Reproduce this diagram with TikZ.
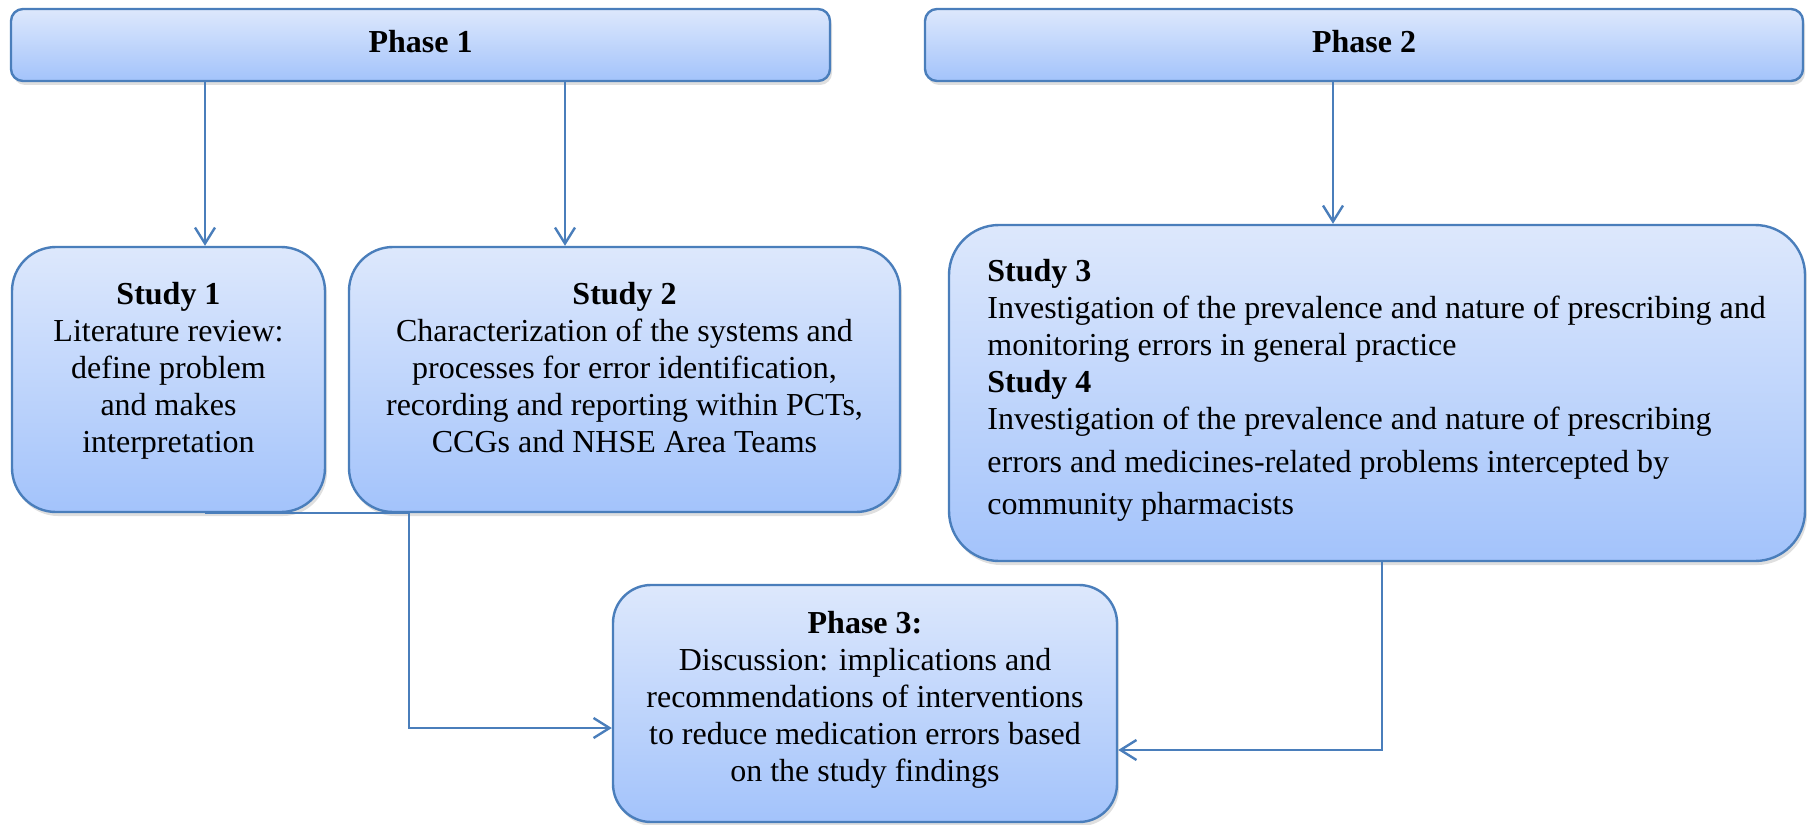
\documentclass[tikz,border=0pt]{standalone}
\usepackage{fontspec}
\setmainfont{Liberation Serif}
\usetikzlibrary{arrows.meta,shadows}

\definecolor{boxline}{HTML}{4A7EBB}
\definecolor{boxtop}{HTML}{DDE8FC}
\definecolor{boxbottom}{HTML}{A3C3FB}

\tikzset{
  phasebox/.style={draw=boxline, line width=1.2pt, rounded corners=6pt,
    top color=boxtop, bottom color=boxbottom, inner sep=0pt, text depth=4pt,
    drop shadow={opacity=0.25, shadow xshift=1pt, shadow yshift=-2pt}},
  studybox/.style={phasebox, rounded corners=22pt, text depth=0pt},
  boxtext/.style={inner sep=0pt, align=center},
  flow/.style={draw=boxline, line width=1.2pt, -{Straight Barb[length=8pt,width=10pt]}}
}

\begin{document}
\begin{tikzpicture}[x=0.5pt, y=-0.5pt, font=\fontsize{16pt}{18.5pt}\selectfont]
    \useasboundingbox (0,0) rectangle (1807,824);

    % phase headers
    \node[phasebox, minimum width=409.5pt, minimum height=36pt] (p1) at (420.5,45) {\textbf{Phase 1}};
    \node[phasebox, minimum width=439pt, minimum height=36pt] (p2) at (1364,45) {\textbf{Phase 2}};

    % studies
    \node[studybox, minimum width=156.5pt, minimum height=132.5pt] (s1) at (168.5,379.5) {};
    \node[studybox, minimum width=275.5pt, minimum height=132.5pt] (s2) at (624.5,379.5) {};
    \node[studybox, rounded corners=25pt, minimum width=428pt, minimum height=168pt] (s3) at (1377,393) {};
    \node[studybox, rounded corners=19pt, minimum width=252pt, minimum height=118.5pt] (p3) at (865,703.5) {};

    \node[boxtext, anchor=north] (s1txt) at (168.5,282) {\textbf{Study 1}\\Literature review:\\define problem\\and makes\\interpretation};
    \node[boxtext, anchor=north] (s2txt) at (624.5,282) {\textbf{Study 2}\\Characterization of the systems and\\processes for error identification,\\recording and reporting within PCTs,\\CCGs and NHSE Area Teams};
    \node[boxtext, align=left, anchor=north west] (s3txt) at (987,259) {\textbf{Study 3}\\Investigation of the prevalence and nature of prescribing and\\monitoring errors in general practice\\\textbf{Study 4}\\Investigation of the prevalence and nature of prescribing\\[3pt]errors and medicines-related problems intercepted by\\[2.5pt]community pharmacists};
    \node[boxtext, anchor=north] (p3txt) at (865,611) {\textbf{Phase 3:}\\Discussion: implications and\\recommendations of interventions\\to reduce medication errors based\\on the study findings};

    % connectors
    \coordinate (c1) at (205,0);
    \coordinate (c2) at (565,0);
    \coordinate (c3) at (1333,0);
    \coordinate (j1) at (409,728);
    \coordinate (j2) at (1382,750);

    \draw[flow] (p1.south -| c1) -- (c1 |- s1.north);
    \draw[flow] (p1.south -| c2) -- (c2 |- s2.north);
    \draw[flow] (p2.south -| c3) -- (c3 |- s3.north);
    \draw[flow] (c1 |- s1.south) -| (j1) -- (j1 -| p3.west);
    \draw[flow] (j2 |- s3.south) -- (j2) -- (j2 -| p3.east);
\end{tikzpicture}
\end{document}
